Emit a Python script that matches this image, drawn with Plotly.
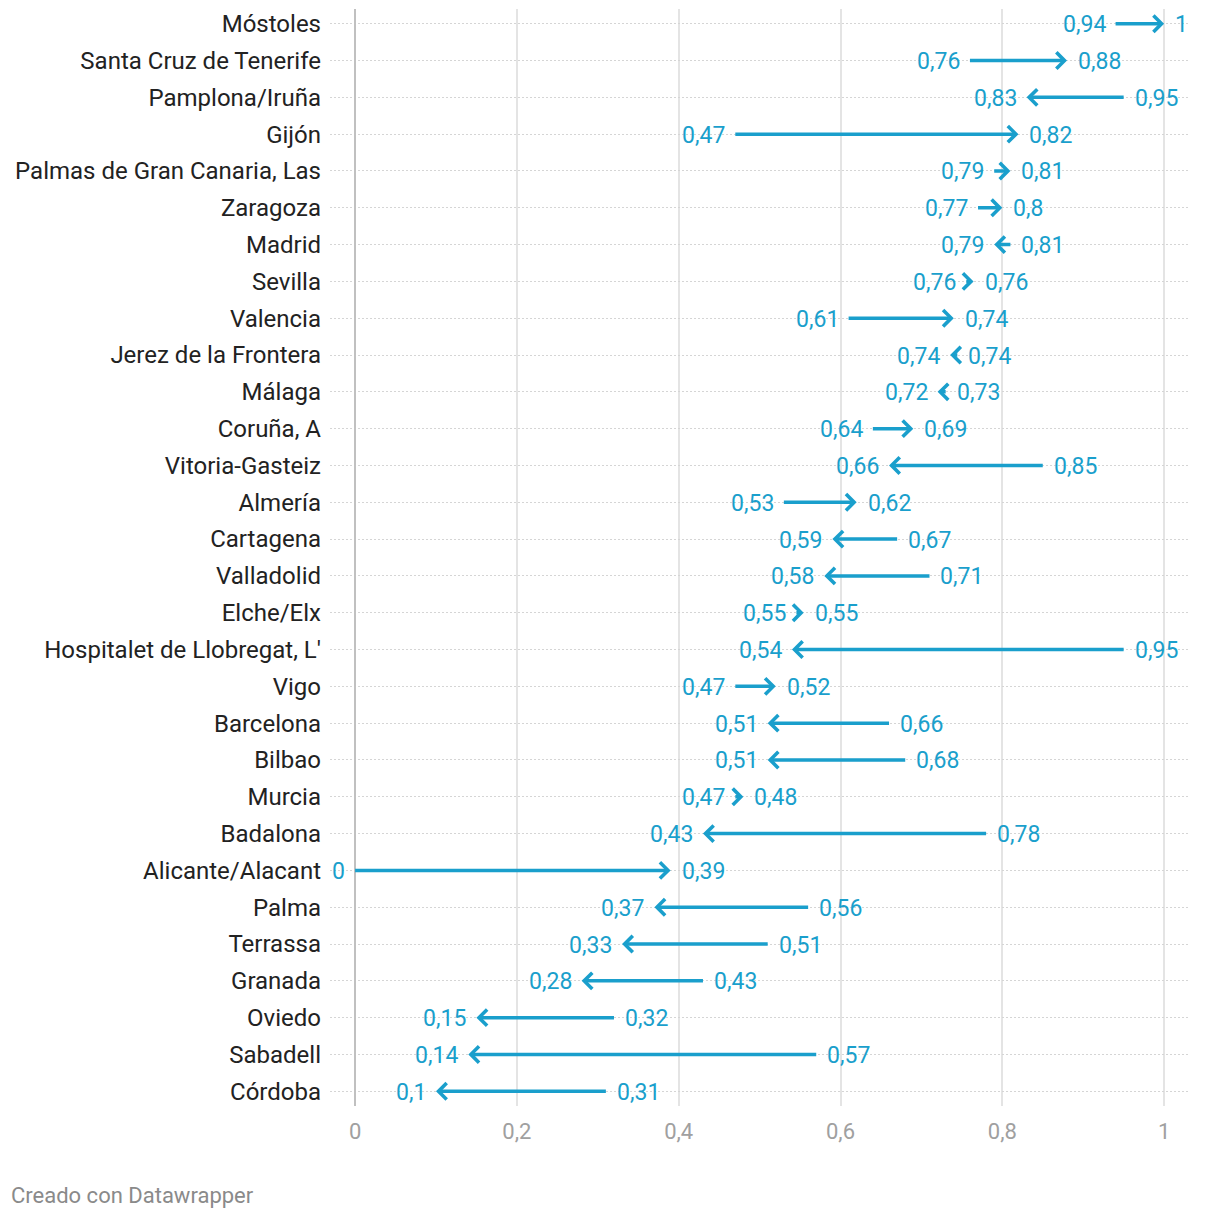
import plotly.graph_objects as go

cities = [
    "Móstoles", "Santa Cruz de Tenerife", "Pamplona/Iruña", "Gijón",
    "Palmas de Gran Canaria, Las", "Zaragoza", "Madrid", "Sevilla", "Valencia",
    "Jerez de la Frontera", "Málaga", "Coruña, A", "Vitoria-Gasteiz", "Almería",
    "Cartagena", "Valladolid", "Elche/Elx", "Hospitalet de Llobregat, L'", "Vigo",
    "Barcelona", "Bilbao", "Murcia", "Badalona", "Alicante/Alacant", "Palma",
    "Terrassa", "Granada", "Oviedo", "Sabadell", "Córdoba",
]
start_vals = [0.94, 0.76, 0.95, 0.47, 0.79, 0.77, 0.81, 0.7555, 0.61, 0.7444,
              0.73, 0.64, 0.85, 0.53, 0.67, 0.71, 0.5455, 0.95, 0.47, 0.66,
              0.68, 0.47, 0.78, 0.0, 0.56, 0.51, 0.43, 0.32, 0.57, 0.31]
end_vals = [1.0, 0.88, 0.83, 0.82, 0.81, 0.80, 0.79, 0.7645, 0.74, 0.7355,
            0.72, 0.69, 0.66, 0.62, 0.59, 0.58, 0.5545, 0.54, 0.52, 0.51,
            0.51, 0.48, 0.43, 0.39, 0.37, 0.33, 0.28, 0.15, 0.14, 0.10]
x_ticks = [0, 0.2, 0.4, 0.6, 0.8, 1.0]

BLUE = "#1a9fcc"
FONT = "Roboto"


def fmt(v):
    s = f"{v:.2f}".rstrip("0").rstrip(".")
    return s.replace(".", ",")


lo = [min(a, b) for a, b in zip(start_vals, end_vals)]
hi = [max(a, b) for a, b in zip(start_vals, end_vals)]

fig = go.Figure()
# invisible trace so the axes exist with data
fig.add_trace(go.Scatter(
    x=lo + hi, y=cities + cities, mode="markers",
    marker=dict(size=1, color="rgba(0,0,0,0)"),
    hoverinfo="skip", showlegend=False,
))

for c, a, b in zip(cities, start_vals, end_vals):
    fig.add_annotation(
        x=b, y=c, ax=a, ay=c, xref="x", yref="y", axref="x", ayref="y",
        text="", showarrow=True, arrowhead=4, arrowsize=0.9,
        arrowwidth=3.5, arrowcolor=BLUE, standoff=0, startstandoff=0,
        font=dict(size=1), borderpad=0, borderwidth=0,
    )

for c, v in zip(cities, lo):
    fig.add_annotation(
        x=v, y=c, xref="x", yref="y", text=fmt(v), showarrow=False,
        xanchor="right", yanchor="middle", xshift=-9, yshift=-1, borderpad=0,
        font=dict(family=FONT, size=23, color=BLUE),
    )
for c, v in zip(cities, hi):
    fig.add_annotation(
        x=v, y=c, xref="x", yref="y", text=fmt(v), showarrow=False,
        xanchor="left", yanchor="middle", xshift=10, yshift=-1, borderpad=0,
        font=dict(family=FONT, size=23, color=BLUE),
    )

fig.add_annotation(
    text="Creado con Datawrapper", xref="paper", yref="paper",
    x=(9 - 330) / 860, y=(1106 - 1195) / 1097, xanchor="left", yanchor="middle",
    showarrow=False, font=dict(family=FONT, size=22, color="#8a8a8a"),
)

fig.update_layout(
    width=1220, height=1218,
    margin=dict(l=330, r=30, t=9, b=112),
    plot_bgcolor="white", paper_bgcolor="white",
    separators=", ",
    font=dict(family=FONT),
    xaxis=dict(
        range=[-0.031, 1.032], tickvals=x_ticks,
        showgrid=True, gridcolor="#e4e4e4", gridwidth=2,
        zeroline=True, zerolinecolor="#c0c0c0", zerolinewidth=2,
        tickfont=dict(family=FONT, size=22, color="#a0a0a0"),
        ticks="", ticklabelstandoff=10, fixedrange=True,
    ),
    yaxis=dict(
        type="category", categoryorder="array", categoryarray=cities,
        range=[29.4, -0.4],
        showgrid=True, gridcolor="#d5d5d5", gridwidth=1, griddash="2px,2px",
        tickfont=dict(family=FONT, size=24, color="#222222"),
        ticks="", ticklabelstandoff=8, fixedrange=True,
    ),
)

fig.write_html("out.html", config={"displayModeBar": False},
               post_script="document.body.style.margin='0px';")
